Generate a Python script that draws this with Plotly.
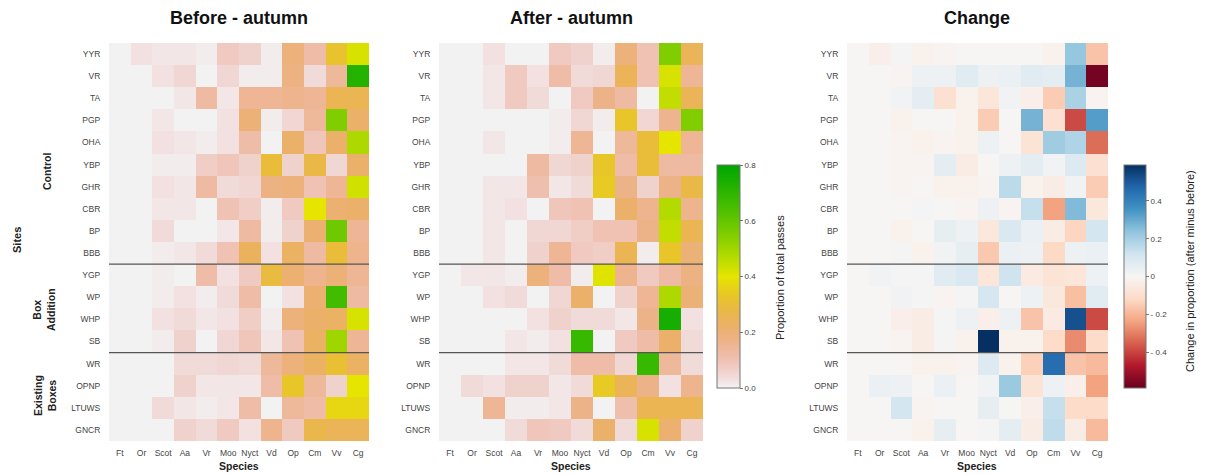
import colorsys
import numpy as np
import plotly.graph_objects as go

# The page body has an 8 px margin, so the figure is drawn 8 px in from the corner.
OX, OY = 8, 8
W, H = 1200, 467

species = ["Ft", "Or", "Scot", "Aa", "Vr", "Moo", "Nyct", "Vd", "Op", "Cm", "Vv", "Cg"]
sites = ["YYR", "VR", "TA", "PGP", "OHA", "YBP", "GHR", "CBR", "BP", "BBB",
         "YGP", "WP", "WHP", "SB", "WR", "OPNP", "LTUWS", "GNCR"]

before = [
    [0, 0.03, 0.02, 0.02, 0.01, 0.08, 0.06, 0.01, 0.19, 0.12, 0.32, 0.42],  # YYR
    [0, 0, 0.03, 0.05, 0, 0.05, 0.01, 0.01, 0.18, 0.04, 0.14, 0.72],        # VR
    [0, 0, 0, 0.02, 0.13, 0.02, 0.15, 0.15, 0.16, 0.15, 0.26, 0.26],        # TA
    [0, 0, 0.02, 0, 0, 0.03, 0.20, 0.01, 0.05, 0.14, 0.55, 0.22],           # PGP
    [0, 0, 0.03, 0.02, 0.01, 0.03, 0.12, 0, 0.22, 0.09, 0.22, 0.48],        # OHA
    [0, 0, 0.01, 0.01, 0.07, 0.09, 0.06, 0.30, 0.06, 0.28, 0.05, 0.22],     # YBP
    [0, 0, 0.03, 0.02, 0.13, 0.04, 0.05, 0.18, 0.19, 0.10, 0.15, 0.43],     # GHR
    [0, 0, 0.02, 0.02, 0, 0.10, 0.07, 0.01, 0.08, 0.40, 0.21, 0.22],        # CBR
    [0, 0, 0.04, 0, 0, 0.02, 0.13, 0.01, 0.06, 0.21, 0.58, 0.15],           # BP
    [0, 0, 0.01, 0.02, 0.04, 0.10, 0.24, 0.03, 0.23, 0.13, 0.30, 0.16],     # BBB
    [0, 0, 0.01, 0, 0.12, 0.03, 0.08, 0.29, 0.21, 0.16, 0.20, 0.15],        # YGP
    [0, 0, 0.01, 0.03, 0.01, 0.04, 0.12, 0, 0.03, 0.21, 0.66, 0.13],        # WP
    [0, 0, 0.03, 0.04, 0.02, 0.03, 0.07, 0.01, 0.19, 0.22, 0.23, 0.42],     # WHP
    [0, 0, 0.01, 0.06, 0, 0.05, 0.09, 0.02, 0.10, 0.23, 0.50, 0.15],        # SB
    [0, 0, 0, 0.04, 0.04, 0.05, 0.04, 0.14, 0.19, 0.23, 0.31, 0.23],        # WR
    [0, 0, 0, 0.06, 0.02, 0.02, 0.02, 0.12, 0.33, 0.14, 0.06, 0.40],        # OPNP
    [0, 0, 0.04, 0.02, 0.01, 0.02, 0.12, 0, 0.14, 0.12, 0.37, 0.37],        # LTUWS
    [0, 0, 0, 0.06, 0.04, 0.08, 0.03, 0.16, 0.08, 0.27, 0.25, 0.25],        # GNCR
]

after = [
    [0, 0, 0.03, 0, 0, 0.08, 0.06, 0.01, 0.19, 0.10, 0.55, 0.25],           # YYR
    [0, 0, 0.02, 0.08, 0.03, 0.12, 0.04, 0.05, 0.25, 0.10, 0.42, 0.15],     # VR
    [0, 0, 0.02, 0.08, 0.04, 0, 0.08, 0.17, 0.13, 0, 0.45, 0.25],           # TA
    [0, 0, 0, 0, 0, 0.01, 0.05, 0.01, 0.33, 0.05, 0.16, 0.55],              # PGP
    [0, 0, 0.02, 0, 0, 0.01, 0.15, 0, 0.14, 0.30, 0.40, 0.15],              # OHA
    [0, 0, 0, 0, 0.13, 0.05, 0.06, 0.33, 0.12, 0.30, 0.13, 0.13],           # YBP
    [0, 0, 0.02, 0.02, 0.11, 0.02, 0.04, 0.34, 0.17, 0.06, 0.17, 0.28],     # GHR
    [0, 0, 0.02, 0.03, 0, 0.09, 0.10, 0, 0.22, 0.16, 0.47, 0.16],           # CBR
    [0, 0, 0.02, 0, 0.05, 0.05, 0.07, 0.10, 0.10, 0.17, 0.45, 0.26],        # BP
    [0, 0, 0.02, 0, 0.06, 0.15, 0.08, 0.07, 0.26, 0.01, 0.33, 0.20],        # BBB
    [0, 0.02, 0.02, 0.01, 0.19, 0.12, 0.01, 0.41, 0.16, 0.08, 0.13, 0.18],  # YGP
    [0, 0, 0.03, 0.04, 0, 0.05, 0.22, 0, 0.06, 0.15, 0.48, 0.20],           # WP
    [0, 0, 0, 0, 0.03, 0.06, 0.04, 0.04, 0.02, 0.17, 0.75, 0.03],           # WHP
    [0, 0, 0, 0.02, 0.01, 0.03, 0.68, 0, 0.08, 0.12, 0.22, 0.04],           # SB
    [0, 0, 0, 0.02, 0.02, 0.04, 0.12, 0.12, 0.05, 0.68, 0.14, 0.04],        # WR
    [0, 0.04, 0.03, 0.06, 0.06, 0.02, 0.04, 0.34, 0.25, 0.17, 0.03, 0.16],  # OPNP
    [0, 0, 0.15, 0.01, 0.01, 0.02, 0.17, 0, 0.11, 0.26, 0.26, 0.26],        # LTUWS
    [0, 0, 0, 0.04, 0.09, 0.08, 0.04, 0.22, 0.04, 0.42, 0.21, 0.06],        # GNCR
]

groups = ["Control", "Box<br>Addition", "Existing<br>Boxes"]
group_breaks = ["BBB", "SB"]  # separator lines drawn below these rows

change = (np.array(after) - np.array(before)).round(3)
cmax = float(np.abs(change).max())


def terrain_rev(n=41):
    stops = []
    for i in range(n):
        t = i / (n - 1)
        if t <= 0.5:
            u = t / 0.5
            h, s, v = (1 / 6) * u, u, 0.95 - 0.05 * u
        else:
            u = (t - 0.5) / 0.5
            h, s, v = 1 / 6 + (1 / 6) * u, 1.0, 0.9 - 0.25 * u
        r, g, b = colorsys.hsv_to_rgb(h, s, v)
        stops.append([t, "rgb(%d,%d,%d)" % (round(r * 255), round(g * 255), round(b * 255))])
    return stops


rdbu = ["#67001F", "#B2182B", "#D6604D", "#F4A582", "#FDDBC7", "#F7F5F4",
        "#D1E5F0", "#92C5DE", "#4393C3", "#2166AC", "#053061"]
rdbu_scale = [[i / 10, c] for i, c in enumerate(rdbu)]

FONT = "Liberation Sans, Arial, sans-serif"


def px(x):
    return (x - OX) / W


def py(y):
    return 1 - (y - OY) / H


panels = [(109, 369), (439, 703), (847, 1108)]
top, bottom = 43, 441

fig = go.Figure()

fig.add_trace(go.Heatmap(
    z=before, x=species, y=sites, zmin=0, zmax=0.8, colorscale=terrain_rev(),
    xaxis="x", yaxis="y", showscale=False))
fig.add_trace(go.Heatmap(
    z=after, x=species, y=sites, zmin=0, zmax=0.8, colorscale=terrain_rev(),
    xaxis="x2", yaxis="y2",
    colorbar=dict(x=px(717), xanchor="left", y=py(276.5), yanchor="middle",
                  len=223, lenmode="pixels", thickness=23, thicknessmode="pixels",
                  xpad=0, ypad=0, outlinewidth=1, outlinecolor="#777",
                  ticks="outside", ticklen=3, tickcolor="#777",
                  tickvals=[0, 0.2, 0.4, 0.6, 0.8],
                  ticktext=["0.0", "0.2", "0.4", "0.6", "0.8"],
                  tickfont=dict(size=8, color="#444", family=FONT))))
ticks2 = [-0.4, -0.2, 0, 0.2, 0.4]
fig.add_trace(go.Heatmap(
    z=change, x=species, y=sites, zmin=-cmax, zmax=cmax, colorscale=rdbu_scale,
    xaxis="x3", yaxis="y3",
    colorbar=dict(x=px(1124), xanchor="left", y=py(276.5), yanchor="middle",
                  len=223, lenmode="pixels", thickness=22, thicknessmode="pixels",
                  xpad=0, ypad=0, outlinewidth=1, outlinecolor="#777",
                  ticks="outside", ticklen=3, tickcolor="#777",
                  tickvals=ticks2,
                  ticktext=[("- %g" % abs(v)) if v < 0 else "%g" % v for v in ticks2],
                  tickfont=dict(size=8, color="#444", family=FONT))))

layout = dict(
    width=W, height=H, margin=dict(l=0, r=0, t=0, b=0),
    paper_bgcolor="white", plot_bgcolor="white",
    font=dict(family=FONT, color="#222"),
    showlegend=False,
)
for i, (x0, x1) in enumerate(panels):
    sfx = "" if i == 0 else str(i + 1)
    layout["xaxis" + sfx] = dict(
        domain=[px(x0), px(x1)], anchor="y" + sfx, showgrid=False, zeroline=False,
        showline=False, ticks="outside", ticklen=4, tickcolor="rgba(0,0,0,0)",
        tickfont=dict(size=8.5, color="#444"), fixedrange=True,
        categoryorder="array", categoryarray=species)
    layout["yaxis" + sfx] = dict(
        domain=[py(bottom), py(top)], anchor="x" + sfx, showgrid=False, zeroline=False,
        showline=False, ticks="outside", ticklen=6, tickcolor="rgba(0,0,0,0)",
        tickfont=dict(size=8.5, color="#444"), autorange="reversed",
        categoryorder="array", categoryarray=sites)
fig.update_layout(**layout)

# group separator lines
shapes = []
for i in range(3):
    sfx = "" if i == 0 else str(i + 1)
    for b in group_breaks:
        yv = sites.index(b) + 0.5
        shapes.append(dict(type="line", xref="x%s domain" % sfx, yref="y" + sfx,
                           x0=0, x1=1, y0=yv, y1=yv,
                           line=dict(color="#555", width=1.3)))
fig.update_layout(shapes=shapes)

ann = []
titles = ["Before - autumn", "After - autumn", "Change"]
for (x0, x1), t in zip(panels, titles):
    ann.append(dict(text="<b>%s</b>" % t, x=px((x0 + x1) / 2), y=py(18),
                    font=dict(size=18, color="#111")))
    ann.append(dict(text="<b>Species</b>", x=px((x0 + x1) / 2), y=py(466),
                    font=dict(size=10.5, color="#222")))
ann.append(dict(text="<b>Sites</b>", x=px(17), y=py(240), textangle=-90,
                font=dict(size=11, color="#222")))
group_pos = [(47, 172), (44, 310), (45, 396)]
for g, (gx, gy) in zip(groups, group_pos):
    ann.append(dict(text="<b>%s</b>" % g, x=px(gx), y=py(gy), textangle=-90,
                    font=dict(size=10.5, color="#222")))
ann.append(dict(text="Proportion of total passes", x=px(780), y=py(278), textangle=-90,
                font=dict(size=11, color="#222")))
ann.append(dict(text="Change in proportion (after minus before)", x=px(1190), y=py(271),
                textangle=-90, font=dict(size=11, color="#222")))
for a in ann:
    a.update(xref="paper", yref="paper", showarrow=False, xanchor="center", yanchor="middle")
fig.update_layout(annotations=ann)

fig.write_html("out.html")
